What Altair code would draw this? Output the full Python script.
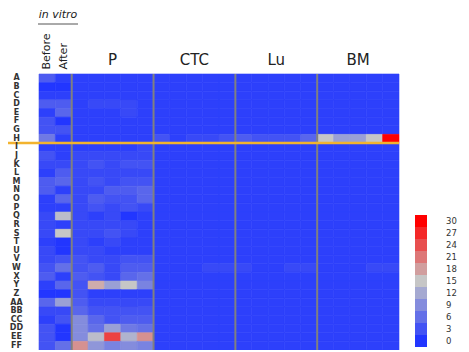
import altair as alt
import pandas as pd

rows = ["A","B","C","D","E","F","G","H","I","J","K","L","M","N","O","P",
        "Q","R","S","T","U","V","W","X","Y","Z","AA","BB","CC","DD","EE","FF"]

invitro_before = [4,0,1,4,1,3,3,7,1,3,2,1,4,4,1,1,
                  2,2,2,1,2,2,3,4,1,0,5,2,1,3,3,3]
invitro_after  = [1,0,1,4,5,0,3,1,1,1,2,4,5,1,5,1,
                  14,1,15,0,0,3,6,1,5,0,11,2,3,0,0,6]

P_vals = [
    [1,1,1,1,1],[1,1,1,1,1],[1,1,1,1,1],[1,2,2,2,1],[1,1,1,2,1],[1,1,1,1,1],
    [1,1,1,1,1],[1,1,1,1,1],[1,1,1,1,2],[2,2,2,2,2],[2,3,2,3,3],[2,2,2,2,2],
    [2,3,2,3,3],[2,2,4,4,5],[2,4,3,3,5],[2,3,2,3,2],[2,1,2,0,1],[2,2,2,2,1],
    [2,2,3,2,1],[2,1,2,1,1],[2,2,1,1,1],[3,2,2,3,3],[3,4,2,4,4],[4,3,2,5,6],
    [3,17,11,15,8],[3,1,1,1,1],[4,2,2,2,2],[5,3,3,3,3],[9,5,3,4,4],[9,6,11,7,6],
    [9,14,25,13,19],[19,10,8,9,8],
]

# CTC / Lu / BM: near zero everywhere except row H (and a faint row W)
CTC_H = [3,1,2,2,3]
Lu_H  = [4,3,3,3,5]
BM_H  = [15,11,11,15,30]
CTC_W = [1,1,1,2,2]
Lu_W  = [2,1,1,2,2]
BM_W  = [1,1,1,2,2]

groups = ["P","CTC","Lu","BM"]
columns = ["Before","After"] + [f"{g}{i}" for g in groups for i in range(1,6)]

records = []
for r_i, r in enumerate(rows):
    records.append({"row": r, "col": "Before", "value": invitro_before[r_i]})
    records.append({"row": r, "col": "After", "value": invitro_after[r_i]})
    for j in range(5):
        records.append({"row": r, "col": f"P{j+1}", "value": P_vals[r_i][j]})
    for g, hv, wv in [("CTC", CTC_H, CTC_W), ("Lu", Lu_H, Lu_W), ("BM", BM_H, BM_W)]:
        for j in range(5):
            v = 1
            if r == "H":
                v = hv[j]
            elif r == "W":
                v = wv[j]
            records.append({"row": r, "col": f"{g}{j+1}", "value": v})
df = pd.DataFrame(records)

xscale = alt.Scale(domain=columns, paddingInner=0, paddingOuter=0)
yscale = alt.Scale(domain=rows, paddingInner=0, paddingOuter=0)
cscale = alt.Scale(domain=[0,15,30], range=["#2236ff","#c6c6c6","#ff0000"], interpolate="rgb")

legend_values = [30,27,24,21,18,15,12,9,6,3,0]

heat = alt.Chart(df).mark_rect(strokeWidth=0.6).encode(
    x=alt.X("col:N", scale=xscale, sort=columns,
            axis=alt.Axis(orient="top", title=None, ticks=False, domain=False,
                          labelAngle=270, labelFontSize=11, labelPadding=5,
                          labelColor="#222222", labelFont="DejaVu Sans",
                          labelExpr="indexof(['Before','After'], datum.value) >= 0 ? datum.value : ''")),
    y=alt.Y("row:N", scale=yscale, sort=rows,
            axis=alt.Axis(title=None, ticks=False, domain=False, labelAlign="center",
                          labelPadding=23, labelFontSize=8, labelFontWeight="bold",
                          labelColor="#333333", labelFont="DejaVu Sans")),
    color=alt.Color("value:Q", scale=cscale,
                    legend=alt.Legend(type="symbol", values=legend_values, title=None,
                                      symbolType="square", symbolSize=144, symbolStrokeWidth=0,
                                      rowPadding=0,
                                      labelFontSize=8.5, labelColor="#333333",
                                      labelOffset=19, orient="none", legendX=376, legendY=141,
                                      padding=0, labelFont="DejaVu Sans")),
    stroke=alt.Stroke("value:Q", scale=cscale, legend=None),
)

sep_df = pd.DataFrame({"col": ["After","P5","CTC5","Lu5"]})
seps = alt.Chart(sep_df).mark_rule(color="#808080", strokeWidth=2).encode(
    x=alt.X("col:N", scale=xscale, sort=columns, bandPosition=1)
)

hline_df = pd.DataFrame({"row": ["H"]})
hline = alt.Chart(hline_df).mark_rule(color="#f2b32e", strokeWidth=2.5).encode(
    y=alt.Y("row:N", scale=yscale, sort=rows, bandPosition=1),
    x=alt.value(-31), x2=alt.value(360),
)

grp_df = pd.DataFrame({"label": groups, "col": ["P3","CTC3","Lu3","BM3"]})
grp_text = alt.Chart(grp_df).mark_text(fontSize=15, font="DejaVu Sans", color="#222222",
                                       baseline="alphabetic", align="center").encode(
    x=alt.X("col:N", scale=xscale, sort=columns, bandPosition=0.5),
    y=alt.value(-9),
    text="label:N",
)

title_df = pd.DataFrame({"label": ["in vitro"]})
invitro_text = alt.Chart(title_df).mark_text(fontSize=11, font="DejaVu Sans", fontStyle="italic",
                                             color="#222222", baseline="alphabetic", align="center").encode(
    x=alt.value(19), y=alt.value(-56), text="label:N"
)
underline = alt.Chart(title_df).mark_rule(color="#555555", strokeWidth=1).encode(
    x=alt.value(-1), x2=alt.value(39), y=alt.value(-50)
)

chart = alt.layer(heat, seps, hline, grp_text, invitro_text, underline).properties(
    width=360, height=276,
    padding={"left": 31, "top": 66, "right": 62, "bottom": 0},
    autosize=alt.AutoSizeParams(type="none"),
).configure_view(stroke=None)

chart.save("out.html", embed_options={"renderer": "svg", "actions": False})
